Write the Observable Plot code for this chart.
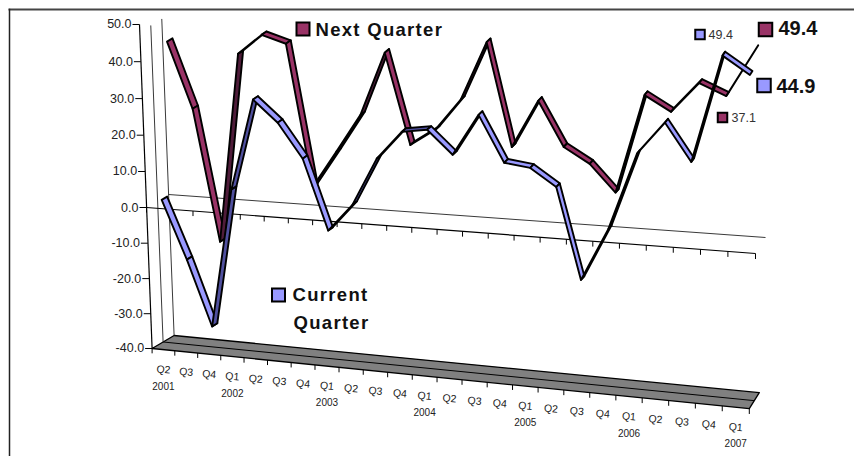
<!DOCTYPE html>
<html>
<head>
<meta charset="utf-8">
<style>
  html, body { margin: 0; padding: 0; background: #fff; }
  .spaced text { letter-spacing: 1.3px; }
</style>
<script src="https://cdn.jsdelivr.net/npm/d3@7"></script>
<script src="https://cdn.jsdelivr.net/npm/@observablehq/plot@0.6"></script>
</head>
<body>
<div id="chart"></div>
<script>
// Survey balance by quarter, Q2 2001 to Q1 2007
const quarterLabels = ["Q2","Q3","Q4","Q1","Q2","Q3","Q4","Q1","Q2","Q3","Q4","Q1","Q2","Q3","Q4","Q1","Q2","Q3","Q4","Q1","Q2","Q3","Q4","Q1"];
const yearLabels = ["2001","","","2002","","","","2003","","","","2004","","","","2005","","","","2006","","","","2007"];
const currentQuarter = [1.5,-14.7,-33,5.8,30.7,24.9,15.6,-3.5,4,17,24.6,25.6,19.4,30.4,18.2,17.3,12.7,-11.3,2.6,22.9,31.4,21.7,49.4,44.9];
const nextQuarter = [43,25.2,-11,40.8,46.2,44.2,6.1,16.1,26.4,43.3,19.2,23.7,32.1,47.5,20.4,33,21.3,17.3,10.2,36.1,32.2,40,37.1,49.4];
const valueTicks = [50,40,30,20,10,0,-10,-20,-30,-40];

const font = "Liberation Sans, Arial, sans-serif";
const ink = "#000";
const plum = "#993366", plumShade = "#4f1c3a";
const lilac = "#9999ff", lilacShade = "#50509f";

// Perspective box: u runs along the time axis, v is the value, d is the depth into the box.
// The result is expressed in the units of the x and y scales below.
const originX = 146, spanX = 609, originY = 207, unitY = 3.6;
const along = u => { const s = u / 24; return s + 0.0915 * s * (s - 1); };
const fromScreen = (px, py) => ({ x: (px - originX) / spanX * 24, y: (originY - py) / unitY });
function project(u, v, d) {
  const t = along(u);
  const rise = (3.585 + (v >= 0 ? 0.22 : 0.36) * t) * v * (1 + 0.00042 * v);
  const px = originX + spanX * t + (-0.14 + 0.295 * t) * v + d * (22 - 12 * t);
  const py = originY + 46 * t - rise - d * (13 + 3 * t);
  return fromScreen(px, py);
}
const edge = (a, b) => { const p = project(...a), q = project(...b); return { x1: p.x, y1: p.y, x2: q.x, y2: q.y }; };

// One ribbon polygon per segment between consecutive quarters
function ribbon(values, d1, d2, base, shade, name) {
  const rows = [];
  for (let j = 0; j + 1 < values.length; ++j) {
    const fill = values[j + 1] > values[j] ? shade : base;
    for (const k of [j, j + 1]) {
      const a = project(k + 0.5, values[k], d1), b = project(k + 0.5, values[k], d2);
      rows.push({ x1: a.x, y1: a.y, x2: b.x, y2: b.y, seg: name + j, fill });
    }
  }
  return rows;
}

const indices = d3.range(24);
const ticks = d3.range(25);
const floorCorners = [[0,-40,0],[24,-40,0],[24,-40,1],[0,-40,1],[0,-40,0]].map(c => project(...c));

const label = (px, py, text, size, weight, anchor = "start", extra = {}) =>
  Plot.text([text], { ...fromScreen(px, py), text: d => d, fontSize: size, fontWeight: weight, fontFamily: font, textAnchor: anchor, lineAnchor: "bottom", fill: weight === "bold" ? "#111" : "#333", ...extra });
const swatch = (px, py, side, fill, strokeWidth = 2) =>
  Plot.dot([0], { ...fromScreen(px, py), symbol: "square", r: side / Math.sqrt(Math.PI), fill, stroke: ink, strokeWidth });

const plot = Plot.plot({
  width: 854,
  height: 456,
  marginTop: 9,
  marginLeft: 9,
  marginRight: 0,
  marginBottom: 0,
  x: { domain: [0, 24], range: [originX, originX + spanX], axis: null },
  y: { domain: [-40, 50], range: [originY + 40 * unitY, originY - 50 * unitY], axis: null },
  color: { type: "identity" },
  style: { background: "#fff", fontFamily: font },
  marks: [
    Plot.frame({ anchor: "top", stroke: "#444", strokeWidth: 2 }),
    Plot.frame({ anchor: "left", stroke: "#222", strokeWidth: 1.5 }),

    // Floor of the box with its centre line
    Plot.line(floorCorners, { x: "x", y: "y", fill: "#808080", stroke: ink, strokeWidth: 1.3 }),
    Plot.link([edge([0,-40,0.5],[24,-40,0.5])], { x1: "x1", y1: "y1", x2: "x2", y2: "y2", stroke: ink, strokeWidth: 1 }),

    // Wall edges and the zero line at the back
    Plot.link([edge([0,-40,0.5],[0,48,0.5]), edge([0,-40,1],[0,48,1]), edge([0,0,1],[24,0,1])], { x1: "x1", y1: "y1", x2: "x2", y2: "y2", stroke: "#222", strokeWidth: 0.9 }),

    // Value axis
    Plot.link([edge([0,-40,0],[0,50,0])], { x1: "x1", y1: "y1", x2: "x2", y2: "y2", stroke: ink, strokeWidth: 1.2 }),
    Plot.link(valueTicks, { x1: v => project(0, v, 0).x - 7 * 24 / spanX, x2: v => project(0, v, 0).x, y1: v => project(0, v, 0).y, y2: v => project(0, v, 0).y, stroke: ink, strokeWidth: 1 }),
    Plot.text(valueTicks, { x: v => project(0, v, 0).x, y: v => project(0, v, 0).y, dx: -8, text: d => d.toFixed(1), textAnchor: "end", fontSize: 12.5, fontFamily: font, fill: "#222" }),

    // Zero line at the front and the time ticks on it and on the floor edge
    Plot.link([edge([0,0,0],[24,0,0])], { x1: "x1", y1: "y1", x2: "x2", y2: "y2", stroke: ink, strokeWidth: 1.2 }),
    Plot.link(ticks, { x1: u => project(u, 0, 0).x, y1: u => project(u, 0, 0).y, x2: u => project(u, 0, 0).x, y2: u => project(u, -1.4, 0).y, stroke: ink, strokeWidth: 1 }),
    Plot.link(ticks, { x1: u => project(u, -40, 0).x, y1: u => project(u, -40, 0).y, x2: u => project(u, -40, 0).x, y2: u => project(u, -41.4, 0).y, stroke: ink, strokeWidth: 1 }),

    // Time labels follow the floor edge
    Plot.text(indices, { x: i => project(i + 0.5, -40, 0).x, y: i => project(i + 0.5, -40, 0).y, dy: 20, text: i => quarterLabels[i], fontSize: 10.5, fontFamily: font, fill: "#222", rotate: 5 }),
    Plot.text(indices.filter(i => yearLabels[i]), { x: i => project(i + 0.5, -40, 0).x, y: i => project(i + 0.5, -40, 0).y, dy: 37, text: i => yearLabels[i], fontSize: 10, fontFamily: font, fill: "#222" }),

    // Ribbons, the rear series first
    Plot.area(ribbon(nextQuarter, 0.7, 0.95, plum, plumShade, "next"), { x1: "x1", y1: "y1", x2: "x2", y2: "y2", z: "seg", fill: "fill", stroke: ink, strokeWidth: 1.9, strokeLinejoin: "round" }),
    Plot.area(ribbon(currentQuarter, 0.2, 0.45, lilac, lilacShade, "current"), { x1: "x1", y1: "y1", x2: "x2", y2: "y2", z: "seg", fill: "fill", stroke: ink, strokeWidth: 1.9, strokeLinejoin: "round" }),

    // Series names
    swatch(302.5, 28.5, 13, plum),
    label(315, 35, "Next Quarter", 18.5, "bold", "start", { className: "spaced" }),
    swatch(278, 294.5, 13, lilac),
    label(330, 300, "Current", 18.5, "bold", "middle", { className: "spaced" }),
    label(331, 328, "Quarter", 18.5, "bold", "middle", { className: "spaced" }),

    // Latest readings
    swatch(765, 29, 13.5, plum),
    label(778, 34.5, String(nextQuarter[23]), 20, "bold"),
    swatch(763.5, 85, 13.5, lilac),
    label(776, 92.5, String(currentQuarter[23]), 20, "bold"),

    // Previous quarter readings
    swatch(699.5, 34, 9.5, lilac),
    label(708, 38.5, String(currentQuarter[22]), 12.5, "normal"),
    swatch(722, 117, 9.5, plum),
    label(731, 121.5, String(nextQuarter[22]), 12.5, "normal")
  ]
});
document.getElementById("chart").appendChild(plot);
</script>
</body>
</html>
